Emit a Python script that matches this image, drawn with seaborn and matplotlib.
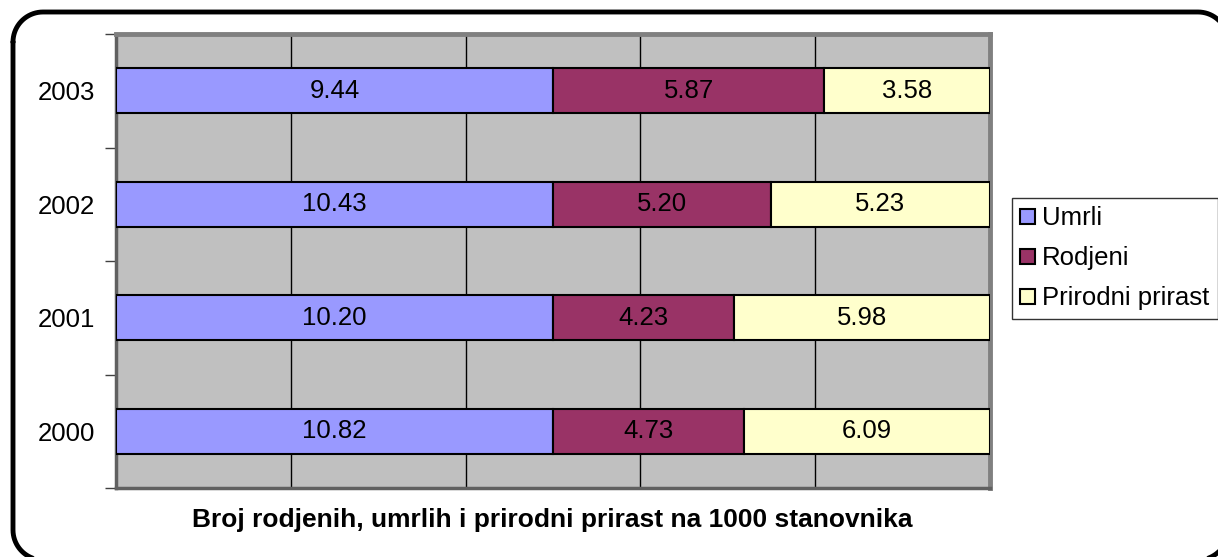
import matplotlib
matplotlib.use('Agg')
import matplotlib.pyplot as plt
from matplotlib.lines import Line2D
import seaborn as sns
import numpy as np

years = ['2000', '2001', '2002', '2003']
umrli = [10.82, 10.20, 10.43, 9.44]
rodjeni = [4.73, 4.23, 5.20, 5.87]
prirast = [6.09, 5.98, 5.23, 3.58]
series_names = ['Umrli', 'Rodjeni', 'Prirodni prirast']
colors = ['#9999FF', '#993366', '#FFFFCC']

W, H = 1218, 557

sns.set_theme(style="white")
plt.rcParams['font.family'] = ['Liberation Sans', 'DejaVu Sans']
plt.rcParams['text.color'] = 'black'
plt.rcParams['ytick.color'] = 'black'

fig = plt.figure(figsize=(W / 100, H / 100), dpi=100)
ax = fig.add_axes([116 / W, 1 - 488 / H, (990 - 116) / W, (488 - 34) / H])
ax.set_facecolor('#C0C0C0')

# 100% stacked bars, labels show the raw values
vals = np.array([umrli, rodjeni, prirast])
pct = vals / vals.sum(axis=0) * 100
y = np.arange(len(years))

left = np.zeros(len(years))
for i, name in enumerate(series_names):
    ax.barh(y, pct[i], left=left, height=0.4, color=colors[i],
            edgecolor='black', linewidth=1.5, label=name, zorder=3)
    for j in range(len(years)):
        ax.text(left[j] + pct[i][j] / 2, y[j], f"{vals[i][j]:.2f}",
                ha='center', va='center', fontsize=18.5, color='black', zorder=4)
    left += pct[i]

ax.set_xlim(0, 100)
ax.set_ylim(-0.5, len(years) - 0.5)
ax.set_xticks([0, 20, 40, 60, 80, 100])
ax.xaxis.grid(True, color='black', linewidth=1)
ax.set_axisbelow(True)
ax.tick_params(axis='x', length=0, labelbottom=False)

ax.set_yticks(y)
ax.set_yticklabels(years, fontsize=18.5, color='black')
ax.set_yticks(np.arange(-0.5, len(years), 1), minor=True)
ax.tick_params(axis='y', which='major', length=0, pad=15)
ax.tick_params(axis='y', which='minor', length=8, width=1, color='#404040', direction='out', left=True)

for side in ['top', 'right']:
    ax.spines[side].set_color('#808080')
    ax.spines[side].set_linewidth(3.5)
for side in ['left', 'bottom']:
    ax.spines[side].set_color('#606060')
    ax.spines[side].set_linewidth(2.5)

leg = fig.legend(loc='upper left', bbox_to_anchor=(1012 / W, 1 - 198 / H),
                 fontsize=18.5, frameon=True, fancybox=False, edgecolor='black',
                 handlelength=0.55, handleheight=0.55, handletextpad=0.3,
                 labelspacing=0.62, borderpad=0.33, borderaxespad=0)
leg.get_frame().set_linewidth(1)

fig.text(552 / W, 1 - 520 / H, 'Broj rodjenih, umrlih i prirodni prirast na 1000 stanovnika',
         ha='center', va='center', fontsize=19, fontweight='bold')

# outer rounded frame (pixels from top-left), runs off the right and bottom edges
x0, x1, y0, y1, r = 13, 1228, 12, 560, 30
t = np.linspace(0, np.pi / 2, 20)
tl_x = x0 + r - r * np.cos(t); tl_y = y0 + r - r * np.sin(t)
tr_x = x1 - r + r * np.sin(t); tr_y = y0 + r - r * np.cos(t)
br_x = x1 - r + r * np.cos(t); br_y = y1 - r + r * np.sin(t)
bl_x = x0 + r - r * np.sin(t); bl_y = y1 - r + r * np.cos(t)
fx = np.concatenate([tl_x, tr_x, br_x, bl_x, tl_x[:1]])
fy = np.concatenate([tl_y, tr_y, br_y, bl_y, tl_y[:1]])
frame = Line2D(fx / W, 1 - fy / H, transform=fig.transFigure, color='black',
               linewidth=3.5, solid_joinstyle='round')
fig.add_artist(frame)

fig.savefig('out.png', dpi=100)
